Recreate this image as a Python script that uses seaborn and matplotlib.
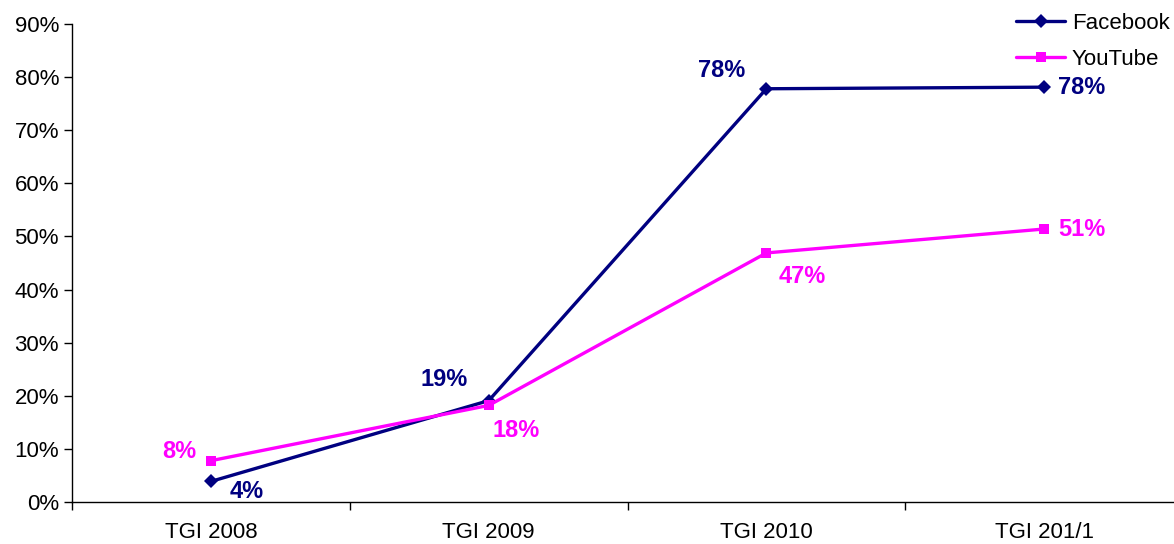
import pandas as pd
import numpy as np
import matplotlib
matplotlib.use("Agg")
import matplotlib.pyplot as plt
import seaborn as sns
from matplotlib.ticker import PercentFormatter, MultipleLocator, FixedLocator

# data
waves = ["TGI 2008", "TGI 2009", "TGI 2010", "TGI 201/1"]
facebook = [3.9, 19.1, 77.8, 78.1]
youtube = [7.8, 18.2, 46.9, 51.4]

fb_color = "#000080"
yt_color = "#FF00FF"

sns.set_theme(style="white")
plt.rcParams['font.family'] = ['Liberation Sans', 'DejaVu Sans']
plt.rcParams['text.color'] = 'black'

df = pd.DataFrame({"wave": waves * 2,
                   "value": facebook + youtube,
                   "series": ["Facebook"] * 4 + ["YouTube"] * 4})
df["x"] = list(range(4)) * 2

fig = plt.figure(figsize=(11.74, 5.44), dpi=100)
ax = fig.add_axes([0.0615, 0.077, 0.9385, 0.879])

sns.lineplot(data=df, x="x", y="value", hue="series", style="series",
             markers={"Facebook": "D", "YouTube": "s"}, dashes=False,
             palette={"Facebook": fb_color, "YouTube": yt_color},
             linewidth=2.4, markersize=7, markeredgewidth=0, ax=ax)

# data labels (offsets in points)
fb_offsets = [(26, -7), (-32, 15), (-32, 13), (27, 0)]
yt_offsets = [(-23, 6.5), (19.5, -18), (26, -17), (27, 0)]
for i in range(4):
    ax.annotate(f"{facebook[i]:.0f}%", (i, facebook[i]), xytext=fb_offsets[i],
                textcoords="offset points", ha="center", va="center",
                color=fb_color, fontsize=17, fontweight="bold")
    ax.annotate(f"{youtube[i]:.0f}%", (i, youtube[i]), xytext=yt_offsets[i],
                textcoords="offset points", ha="center", va="center",
                color=yt_color, fontsize=17, fontweight="bold")

ax.set_xlim(-0.5, 3.468)
ax.set_ylim(0, 90)
ax.yaxis.set_major_locator(MultipleLocator(10))
ax.yaxis.set_major_formatter(PercentFormatter(decimals=0))
ax.set_xticks(range(4))
ax.set_xticklabels(waves)
ax.xaxis.set_minor_locator(FixedLocator([-0.5, 0.5, 1.5, 2.5, 3.5]))
ax.tick_params(axis="x", which="major", length=0, labelsize=16, pad=14, labelcolor="black")
ax.tick_params(axis="x", which="minor", length=6, width=1, color="black", direction="out", bottom=True)
ax.tick_params(axis="y", length=6, width=1, color="black", direction="out", left=True,
               labelsize=16, labelcolor="black")
ax.set_xlabel("")
ax.set_ylabel("")

for s in ["top", "right"]:
    ax.spines[s].set_visible(False)
for s in ["left", "bottom"]:
    ax.spines[s].set_color("black")
    ax.spines[s].set_linewidth(1)

leg = ax.legend(title=None, frameon=False, loc="upper right", bbox_to_anchor=(0.998, 0.98),
                bbox_transform=fig.transFigure, fontsize=16, handlelength=2.2,
                handletextpad=0.3, labelspacing=0.65, borderaxespad=0, borderpad=0.1)
for t in leg.get_texts():
    t.set_color("black")

plt.savefig("out.png", dpi=100)
